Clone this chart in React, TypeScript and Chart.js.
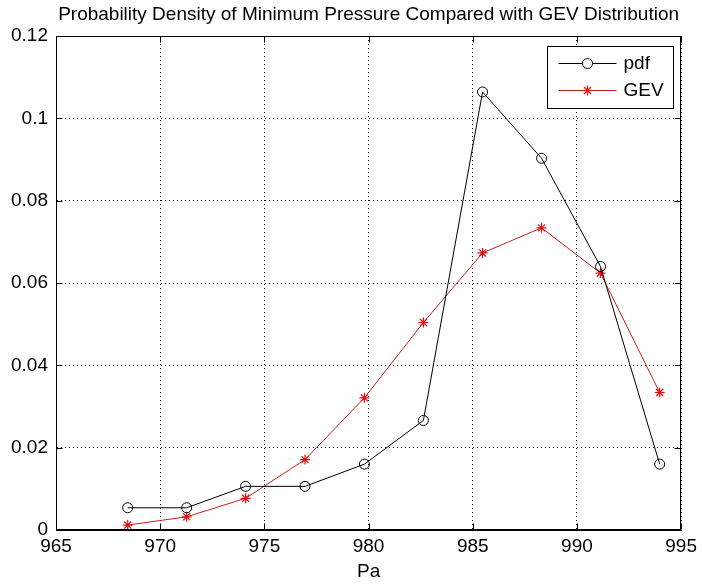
import React, { useEffect, useRef } from "react";
import { Chart, registerables } from "chart.js";

Chart.register(...registerables);

const titleText = "Probability Density of Minimum Pressure Compared with GEV Distribution";
const xAxisLabel = "Pa";
const seriesNames = ["pdf", "GEV"];
const pressure = [968.44, 971.27, 974.1, 976.95, 979.8, 982.63, 985.47, 988.3, 991.13, 993.97];
const pdfValues = [0.0054, 0.0054, 0.0106, 0.0106, 0.016, 0.0266, 0.1064, 0.0903, 0.064, 0.016];
const gevValues = [0.0012, 0.0032, 0.0077, 0.0171, 0.0321, 0.0504, 0.0673, 0.0734, 0.0624, 0.0334];
const xTicks = [965, 970, 975, 980, 985, 990, 995];
const xTickLabels = ["965", "970", "975", "980", "985", "990", "995"];
const yTicks = [0, 0.02, 0.04, 0.06, 0.08, 0.1, 0.12];
const yTickLabels = ["0", "0.02", "0.04", "0.06", "0.08", "0.1", "0.12"];

const FONT = "'Liberation Sans', Arial, sans-serif";
const FONT_SIZE = 19;
const PDF_COLOR = "#000000";
const GEV_LINE = "#c02020";
const GEV_MARK = "#e01010";

function drawStar(ctx: CanvasRenderingContext2D, x: number, y: number, r: number) {
  ctx.beginPath();
  ctx.moveTo(x - r, y);
  ctx.lineTo(x + r, y);
  ctx.moveTo(x, y - r);
  ctx.lineTo(x, y + r);
  const d = r * Math.SQRT1_2;
  ctx.moveTo(x - d, y - d);
  ctx.lineTo(x + d, y + d);
  ctx.moveTo(x - d, y + d);
  ctx.lineTo(x + d, y - d);
  ctx.stroke();
}

const matlabPlugin = {
  id: "matlabDecor",
  afterDraw(chart: any) {
    const ctx: CanvasRenderingContext2D = chart.ctx;
    const a = chart.chartArea;
    const xs = chart.scales.x;
    const ys = chart.scales.y;
    ctx.save();
    ctx.strokeStyle = "#000";
    ctx.lineWidth = 1;
    const L = Math.round(a.left) + 0.5;
    const R = Math.round(a.right) - 0.5;
    const T = Math.round(a.top) + 0.5;
    const B = Math.round(a.bottom) - 0.5;
    ctx.strokeRect(L, T, R - L, B - T);
    const tl = 6;
    ctx.beginPath();
    xTicks.forEach((v) => {
      const px = Math.round(xs.getPixelForValue(v)) + 0.5;
      ctx.moveTo(px, B);
      ctx.lineTo(px, B - tl);
      ctx.moveTo(px, T);
      ctx.lineTo(px, T + tl);
    });
    yTicks.forEach((v) => {
      const py = Math.round(ys.getPixelForValue(v)) + 0.5;
      ctx.moveTo(L, py);
      ctx.lineTo(L + tl, py);
      ctx.moveTo(R, py);
      ctx.lineTo(R - tl, py);
    });
    ctx.stroke();

    // title
    ctx.fillStyle = "#000";
    ctx.font = `${FONT_SIZE}px ${FONT}`;
    ctx.textAlign = "center";
    ctx.textBaseline = "middle";
    ctx.fillText(titleText, (a.left + a.right) / 2, 15);

    // legend
    const bx = Math.round(a.right) - 133.5;
    const by = Math.round(a.top) + 10.5;
    const bw = 126;
    const bh = 62;
    ctx.fillStyle = "#fff";
    ctx.fillRect(bx, by, bw, bh);
    ctx.strokeStyle = "#000";
    ctx.strokeRect(bx, by, bw, bh);
    const rows = [by + 17, by + 44];
    const x1 = bx + 11;
    const x2 = bx + 69;
    const xm = (x1 + x2) / 2;
    // pdf
    ctx.strokeStyle = PDF_COLOR;
    ctx.beginPath();
    ctx.moveTo(x1, rows[0]);
    ctx.lineTo(x2, rows[0]);
    ctx.stroke();
    ctx.fillStyle = "#fff";
    ctx.beginPath();
    ctx.arc(xm, rows[0], 5, 0, Math.PI * 2);
    ctx.fill();
    ctx.stroke();
    // GEV
    ctx.strokeStyle = GEV_LINE;
    ctx.beginPath();
    ctx.moveTo(x1, rows[1]);
    ctx.lineTo(x2, rows[1]);
    ctx.stroke();
    ctx.strokeStyle = GEV_MARK;
    ctx.lineWidth = 1.2;
    drawStar(ctx, xm, rows[1], 5);
    ctx.fillStyle = "#000";
    ctx.font = `${FONT_SIZE}px ${FONT}`;
    ctx.textAlign = "left";
    ctx.fillText(seriesNames[0], x2 + 7, rows[0]);
    ctx.fillText(seriesNames[1], x2 + 7, rows[1]);
    ctx.restore();
  },
};

export default function App() {
  const canvasRef = useRef<HTMLCanvasElement | null>(null);

  useEffect(() => {
    const canvas = canvasRef.current;
    if (!canvas) return;
    const chart = new Chart(canvas, {
      type: "line",
      data: {
        datasets: [
          {
            label: seriesNames[0],
            data: pressure.map((x, i) => ({ x, y: pdfValues[i] })),
            borderColor: PDF_COLOR,
            borderWidth: 1,
            pointStyle: "circle",
            pointRadius: 5,
            pointBorderColor: PDF_COLOR,
            pointBackgroundColor: "rgba(255,255,255,0)",
            pointBorderWidth: 1,
            tension: 0,
            fill: false,
          },
          {
            label: seriesNames[1],
            data: pressure.map((x, i) => ({ x, y: gevValues[i] })),
            borderColor: GEV_LINE,
            borderWidth: 1,
            pointStyle: "star",
            pointRadius: 5,
            pointBorderColor: GEV_MARK,
            pointBackgroundColor: GEV_MARK,
            pointBorderWidth: 1.2,
            tension: 0,
            fill: false,
          },
        ],
      },
      options: {
        responsive: false,
        animation: false,
        layout: { padding: { top: 36, right: 18, bottom: 0, left: 0 } },
        plugins: {
          legend: { display: false },
          title: { display: false },
          tooltip: { enabled: false },
        },
        scales: {
          x: {
            type: "linear",
            min: 965,
            max: 995,
            afterBuildTicks: (s: any) => {
              s.ticks = xTicks.map((v) => ({ value: v }));
            },
            afterFit: (s: any) => {
              s.height = 56;
            },
            ticks: {
              color: "#000",
              font: { family: FONT, size: FONT_SIZE },
              padding: 5,
              maxRotation: 0,
              autoSkip: false,
              callback: (_v: any, i: number) => xTickLabels[i],
            },
            grid: { color: "#000", lineWidth: 1, drawTicks: false },
            border: { display: true, color: "#000", dash: [1, 3] },
            title: {
              display: true,
              text: xAxisLabel,
              color: "#000",
              font: { family: FONT, size: FONT_SIZE },
              padding: { top: 2, bottom: 3 },
            },
          },
          y: {
            type: "linear",
            min: 0,
            max: 0.12,
            afterBuildTicks: (s: any) => {
              s.ticks = yTicks.map((v) => ({ value: v }));
            },
            afterFit: (s: any) => {
              s.width = 56;
            },
            ticks: {
              color: "#000",
              font: { family: FONT, size: FONT_SIZE },
              padding: 8,
              autoSkip: false,
              callback: (_v: any, i: number) => yTickLabels[i],
            },
            grid: { color: "#000", lineWidth: 1, drawTicks: false },
            border: { display: true, color: "#000", dash: [1, 3] },
          },
        },
      },
      plugins: [matlabPlugin],
    } as any);
    return () => chart.destroy();
  }, []);

  return (
    <div style={{ position: "absolute", left: 0, top: 0, width: 702, height: 586, background: "#fff" }}>
      <canvas ref={canvasRef} width={702} height={586} style={{ display: "block" }} />
    </div>
  );
}
